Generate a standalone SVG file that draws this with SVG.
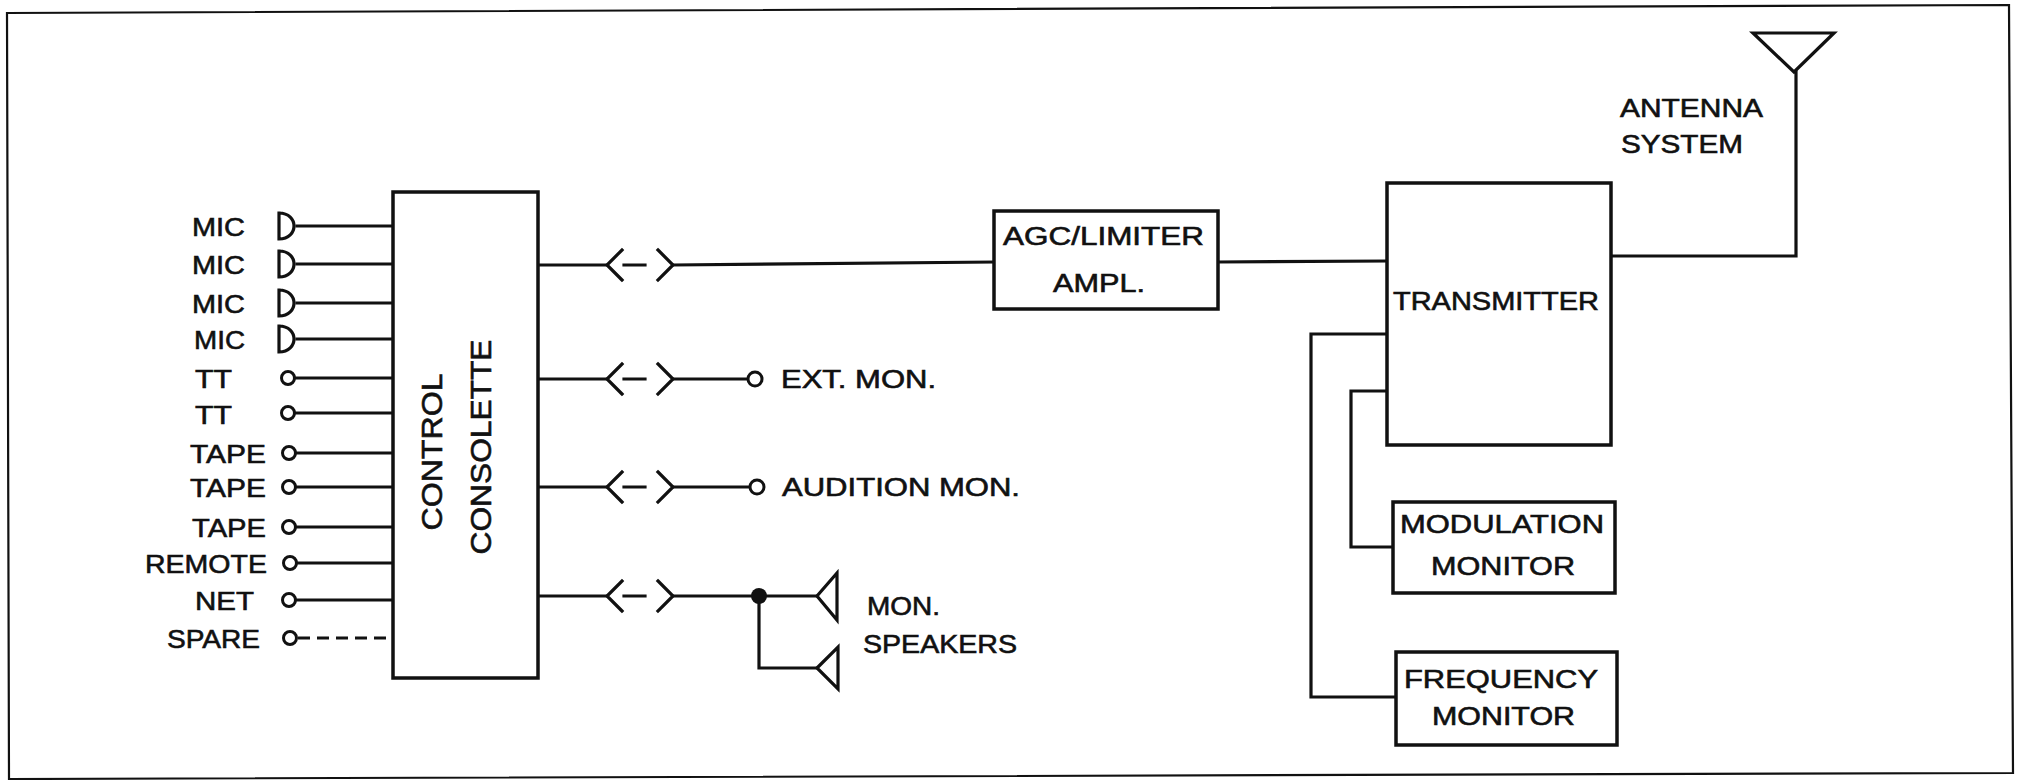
<svg xmlns="http://www.w3.org/2000/svg" width="2023" height="780" viewBox="0 0 2023 780">
<style>
.ln{fill:none;stroke:#111;stroke-width:3.2;stroke-linecap:square;stroke-linejoin:miter}
.box{fill:#fff;stroke:#111;stroke-width:3.5}
.t,.tl,.tv{font-family:"Liberation Sans",Arial,sans-serif;fill:#111;stroke:#111;stroke-width:0.6}
.t{font-size:25px}
.tl{font-size:26px}
.tv{font-size:30px}
.jack{fill:#fff;stroke:#111;stroke-width:3}
</style>
<defs>
<path id="mic" d="M0,-13 L0,13 M0,-13 C20,-13 20,13 0,13" class="ln"/>
<path id="plug" d="M15,-15 L0,0 L15,15 M17,0 L38,0 M51,-15 L66,0 L51,15" class="ln"/>
</defs>
<rect width="2023" height="780" fill="#fff"/>
<polygon points="7,13 2009,5 2013,773 9,779" fill="none" stroke="#111" stroke-width="2.2"/>

<g id="connectors">
<line class="ln" x1="297" y1="226" x2="393" y2="226"/>
<line class="ln" x1="297" y1="264" x2="393" y2="264"/>
<line class="ln" x1="297" y1="303" x2="393" y2="303"/>
<line class="ln" x1="297" y1="339" x2="393" y2="339"/>
<line class="ln" x1="295" y1="378" x2="393" y2="378"/>
<line class="ln" x1="295" y1="413" x2="393" y2="413"/>
<line class="ln" x1="296" y1="453" x2="393" y2="453"/>
<line class="ln" x1="296" y1="487" x2="393" y2="487"/>
<line class="ln" x1="296" y1="527" x2="393" y2="527"/>
<line class="ln" x1="296" y1="563" x2="393" y2="563"/>
<line class="ln" x1="296" y1="600" x2="393" y2="600"/>
<line x1="298" y1="638" x2="393" y2="638" stroke="#111" stroke-width="3.2" stroke-dasharray="12,7"/>
<line class="ln" x1="538" y1="265" x2="607" y2="265"/>
<use href="#plug" x="607" y="265"/>
<line class="ln" x1="673" y1="265" x2="994" y2="262"/>
<line class="ln" x1="538" y1="379" x2="607" y2="379"/>
<use href="#plug" x="607" y="379"/>
<line class="ln" x1="673" y1="379" x2="748" y2="379"/>
<line class="ln" x1="538" y1="487" x2="607" y2="487"/>
<use href="#plug" x="607" y="487"/>
<line class="ln" x1="673" y1="487" x2="750" y2="487"/>
<line class="ln" x1="538" y1="596" x2="607" y2="596"/>
<use href="#plug" x="607" y="596"/>
<polyline class="ln" points="673,596 817,596"/>
<polyline class="ln" points="759,596 759,668 817,668"/>
<circle cx="759" cy="596" r="8" fill="#111"/>
<line class="ln" x1="1218" y1="262" x2="1387" y2="261"/>
<polyline class="ln" points="1611,256 1796,256 1796,72"/>
<polyline class="ln" points="1387,334 1311,334 1311,697 1396,697"/>
<polyline class="ln" points="1387,391 1351,391 1351,547 1393,547"/>
</g>

<g id="mic1"><use href="#mic" x="279" y="226"/><text class="tl" x="192" y="236" textLength="53" lengthAdjust="spacingAndGlyphs">MIC</text></g>
<g id="mic2"><use href="#mic" x="279" y="264"/><text class="tl" x="192" y="274" textLength="53" lengthAdjust="spacingAndGlyphs">MIC</text></g>
<g id="mic3"><use href="#mic" x="279" y="303"/><text class="tl" x="192" y="313" textLength="53" lengthAdjust="spacingAndGlyphs">MIC</text></g>
<g id="mic4"><use href="#mic" x="279" y="339"/><text class="tl" x="194" y="349" textLength="51" lengthAdjust="spacingAndGlyphs">MIC</text></g>
<g id="tt1"><circle class="jack" cx="288" cy="378" r="6.5"/><text class="tl" x="195" y="388" textLength="37" lengthAdjust="spacingAndGlyphs">TT</text></g>
<g id="tt2"><circle class="jack" cx="288" cy="413" r="6.5"/><text class="tl" x="195" y="424" textLength="37" lengthAdjust="spacingAndGlyphs">TT</text></g>
<g id="tape1"><circle class="jack" cx="289" cy="453" r="6.5"/><text class="tl" x="190" y="463" textLength="76" lengthAdjust="spacingAndGlyphs">TAPE</text></g>
<g id="tape2"><circle class="jack" cx="289" cy="487" r="6.5"/><text class="tl" x="190" y="497" textLength="76" lengthAdjust="spacingAndGlyphs">TAPE</text></g>
<g id="tape3"><circle class="jack" cx="289" cy="527" r="6.5"/><text class="tl" x="192" y="537" textLength="74" lengthAdjust="spacingAndGlyphs">TAPE</text></g>
<g id="remote"><circle class="jack" cx="290" cy="563" r="6.5"/><text class="tl" x="145" y="573" textLength="122" lengthAdjust="spacingAndGlyphs">REMOTE</text></g>
<g id="net"><circle class="jack" cx="289" cy="600" r="6.5"/><text class="tl" x="195" y="610" textLength="59" lengthAdjust="spacingAndGlyphs">NET</text></g>
<g id="spare"><circle class="jack" cx="290" cy="638" r="6.5"/><text class="tl" x="167" y="648" textLength="93" lengthAdjust="spacingAndGlyphs">SPARE</text></g>

<g id="console">
<rect class="box" x="393" y="192" width="145" height="486"/>
<text class="tv" transform="translate(442,452) rotate(-90)" text-anchor="middle" textLength="157" lengthAdjust="spacingAndGlyphs">CONTROL</text>
<text class="tv" transform="translate(491,447) rotate(-90)" text-anchor="middle" textLength="215" lengthAdjust="spacingAndGlyphs">CONSOLETTE</text>
</g>

<g id="agc">
<rect class="box" x="994" y="211" width="224" height="98"/>
<text class="t" x="1003" y="245" textLength="201" lengthAdjust="spacingAndGlyphs">AGC/LIMITER</text>
<text class="t" x="1053" y="292" textLength="92" lengthAdjust="spacingAndGlyphs">AMPL.</text>
</g>

<g id="extmon"><circle class="jack" cx="755" cy="379" r="7"/><text class="t" x="781" y="388" textLength="155" lengthAdjust="spacingAndGlyphs">EXT. MON.</text></g>
<g id="auditionmon"><circle class="jack" cx="757" cy="487" r="7"/><text class="t" x="782" y="496" textLength="238" lengthAdjust="spacingAndGlyphs">AUDITION MON.</text></g>
<g id="speakers">
<polygon class="ln" points="817,596 837,573 837,620"/>
<polygon class="ln" points="817,668 838,647 838,689"/>
<text class="t" x="867" y="615" textLength="73" lengthAdjust="spacingAndGlyphs">MON.</text>
<text class="t" x="863" y="653" textLength="154" lengthAdjust="spacingAndGlyphs">SPEAKERS</text>
</g>

<g id="transmitter">
<rect class="box" x="1387" y="183" width="224" height="262"/>
<text class="t" x="1393" y="310" textLength="206" lengthAdjust="spacingAndGlyphs">TRANSMITTER</text>
</g>

<g id="antenna">
<polygon class="ln" points="1753,33 1834,33 1794,72"/>
<text class="t" x="1620" y="117" textLength="143" lengthAdjust="spacingAndGlyphs">ANTENNA</text>
<text class="t" x="1621" y="153" textLength="122" lengthAdjust="spacingAndGlyphs">SYSTEM</text>
</g>

<g id="modmon">
<rect class="box" x="1393" y="502" width="222" height="91"/>
<text class="t" x="1400" y="533" textLength="204" lengthAdjust="spacingAndGlyphs">MODULATION</text>
<text class="t" x="1431" y="575" textLength="144" lengthAdjust="spacingAndGlyphs">MONITOR</text>
</g>

<g id="freqmon">
<rect class="box" x="1396" y="652" width="221" height="93"/>
<text class="t" x="1404" y="688" textLength="194" lengthAdjust="spacingAndGlyphs">FREQUENCY</text>
<text class="t" x="1432" y="725" textLength="143" lengthAdjust="spacingAndGlyphs">MONITOR</text>
</g>
</svg>
